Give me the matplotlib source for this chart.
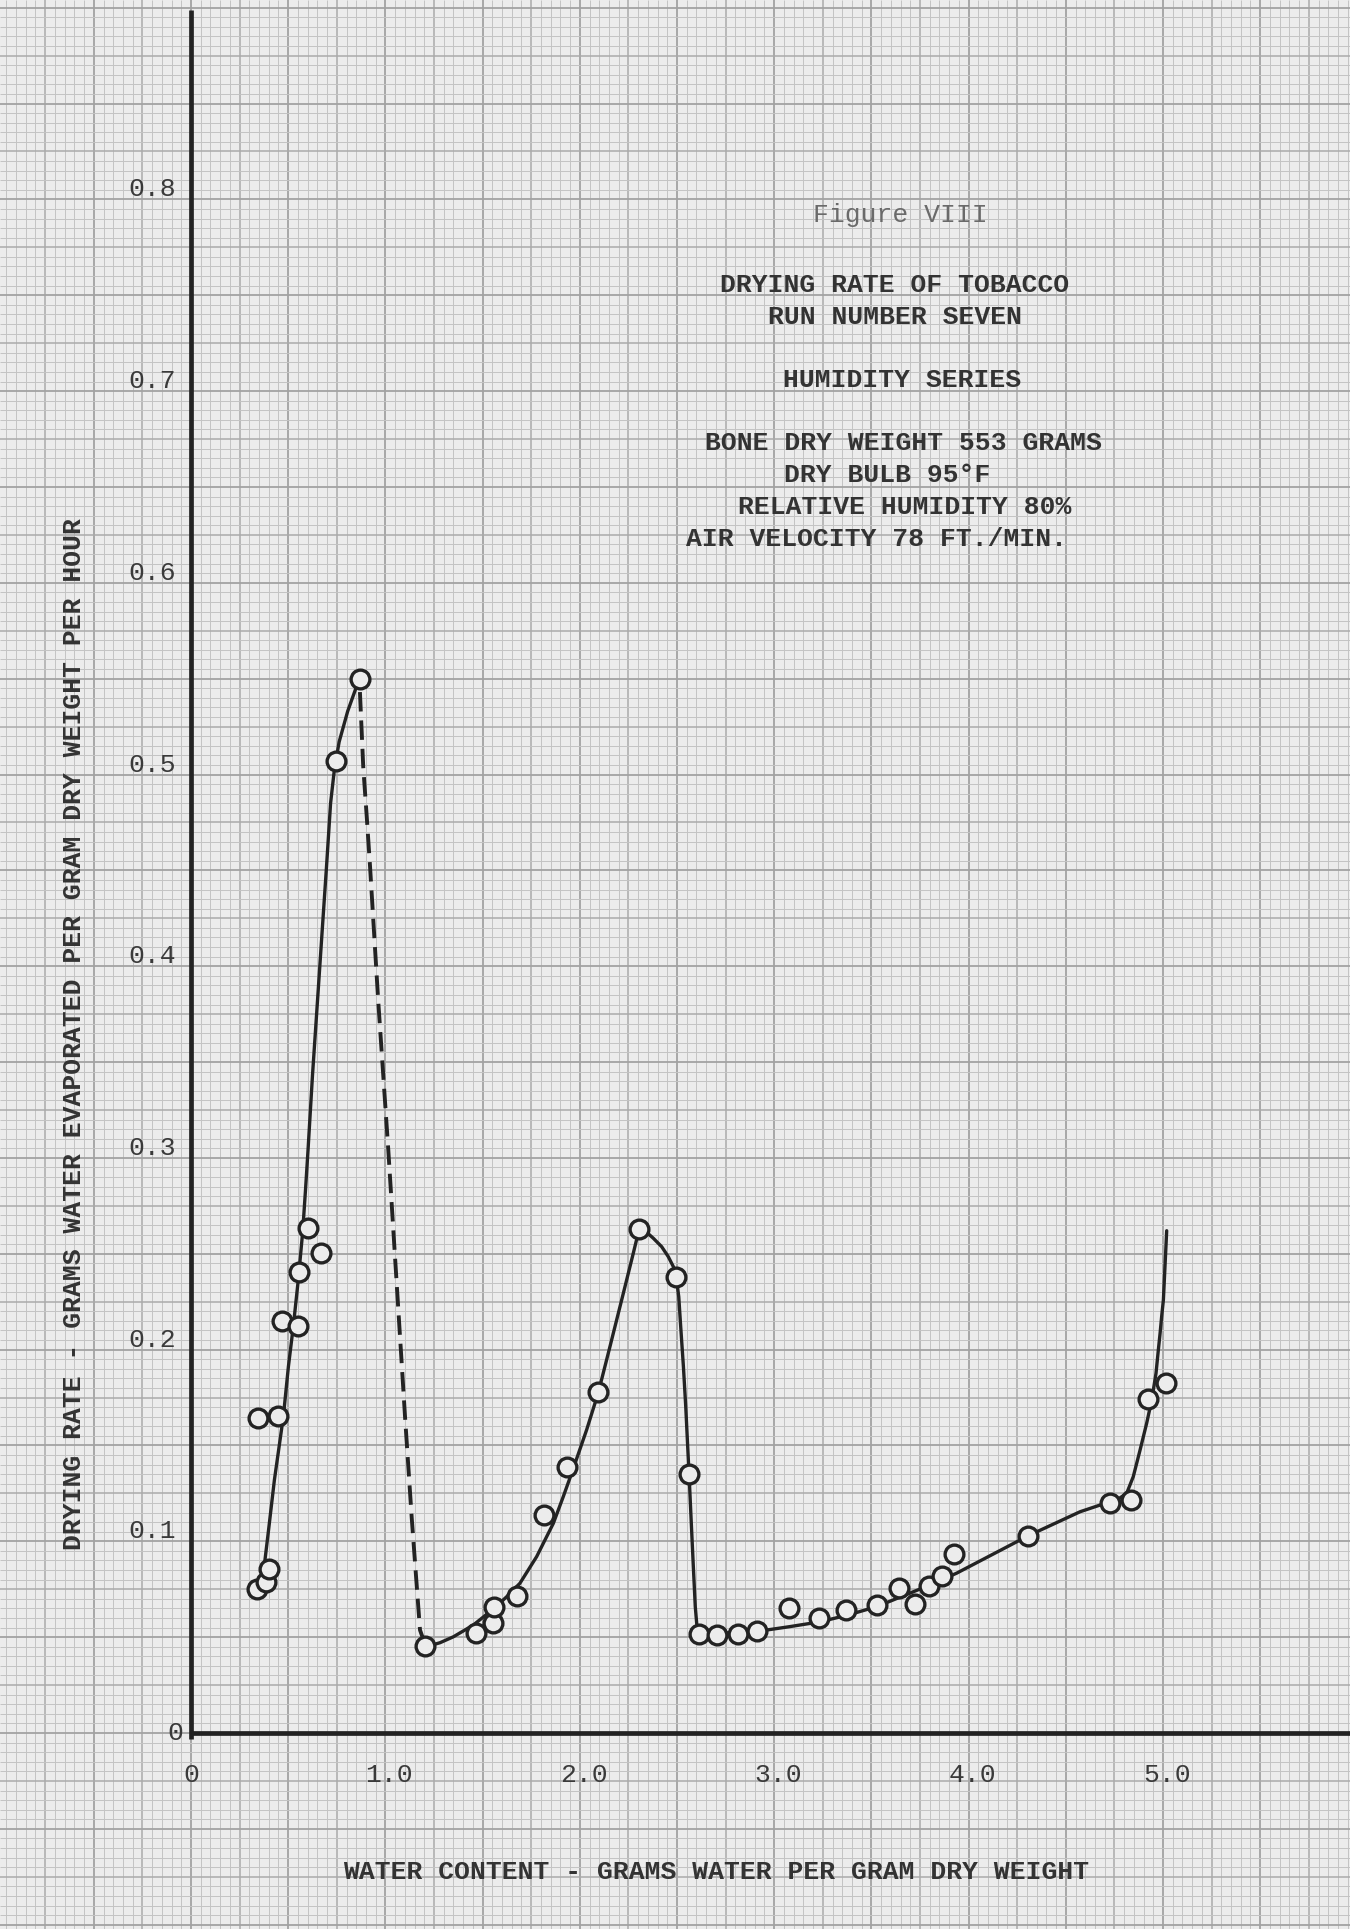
import matplotlib
matplotlib.use("Agg")
import matplotlib.pyplot as plt
import numpy as np

# ---- data ----
# measured points (open circles)
point_x = [0.341, 0.386, 0.401, 0.346, 0.446, 0.470, 0.552, 0.557, 0.604, 0.669, 0.746, 0.869,
           1.205, 1.466, 1.552, 1.559, 1.675, 1.816, 1.933, 2.095, 2.306, 2.493, 2.560,
           2.614, 2.704, 2.815, 2.913, 3.077, 3.232, 3.369, 3.530, 3.644, 3.724, 3.798,
           3.865, 3.925, 4.307, 4.728, 4.834, 4.925, 5.015]
point_y = [0.0750, 0.0786, 0.0854, 0.1645, 0.1654, 0.2149, 0.2125, 0.2403, 0.2636, 0.2502, 0.5072, 0.5498,
           0.0455, 0.0520, 0.0572, 0.0659, 0.0715, 0.1137, 0.1389, 0.1777, 0.2628, 0.2377, 0.1350,
           0.0516, 0.0511, 0.0516, 0.0530, 0.0652, 0.0598, 0.0642, 0.0668, 0.0758, 0.0673, 0.0767,
           0.0821, 0.0934, 0.1029, 0.1198, 0.1218, 0.1742, 0.1824]

# hand drawn curve, first rise
rise_x = [0.370, 0.399, 0.429, 0.475, 0.501, 0.526, 0.550, 0.574, 0.589, 0.602, 0.625,
          0.651, 0.674, 0.697, 0.718, 0.738, 0.762, 0.806, 0.850, 0.869]
rise_y = [0.0814, 0.1059, 0.1320, 0.1650, 0.1911, 0.2119, 0.2346, 0.2608, 0.2833, 0.3041, 0.3432,
          0.3824, 0.4173, 0.4518, 0.4850, 0.5030, 0.5170, 0.5330, 0.5455, 0.5498]

# dashed drop
drop_x = [0.869, 0.886, 0.904, 0.921, 0.963, 1.015, 1.058, 1.101, 1.135, 1.178, 1.205]
drop_y = [0.543, 0.504, 0.478, 0.452, 0.382, 0.304, 0.2346, 0.165, 0.1128, 0.0537, 0.046]

# second branch, flat part and final rise
tail_x = [1.209, 1.281, 1.350, 1.452, 1.559, 1.624, 1.692, 1.778, 1.864, 1.915, 1.958, 2.035,
          2.095, 2.155, 2.224, 2.275, 2.298, 2.306, 2.335, 2.378, 2.421, 2.455, 2.481, 2.498,
          2.509, 2.519, 2.533, 2.545, 2.555, 2.562, 2.572, 2.584, 2.594, 2.605, 2.625,
          2.913, 3.081, 3.236, 3.381, 3.527, 3.801, 3.939, 4.307, 4.573, 4.676, 4.762, 4.813,
          4.847, 4.882, 4.916, 4.942, 4.964, 4.976, 4.985, 4.993, 5.002, 5.019]
tail_y = [0.0450, 0.0471, 0.0502, 0.0563, 0.0650, 0.0711, 0.0781, 0.0920, 0.1094, 0.1233, 0.1355, 0.1581,
          0.1775, 0.2015, 0.2294, 0.2502, 0.2598, 0.2628, 0.2620, 0.2581, 0.2537, 0.2485, 0.2433, 0.2363,
          0.2276, 0.2120, 0.1911, 0.1702, 0.1494, 0.1350, 0.1128, 0.0868, 0.0659, 0.0528, 0.0516,
          0.0530, 0.0555, 0.0580, 0.0616, 0.0659, 0.0772, 0.0834, 0.1029, 0.1154, 0.1189, 0.1215, 0.1250,
          0.1337, 0.1476, 0.1616, 0.1737, 0.1876, 0.1998, 0.2085, 0.2172, 0.2259, 0.2620]

y_ticks = [0.1, 0.2, 0.3, 0.4, 0.5, 0.6, 0.7, 0.8]
y_tick_labels = ["0.1", "0.2", "0.3", "0.4", "0.5", "0.6", "0.7", "0.8"]
x_ticks = [0, 1, 2, 3, 4, 5]
x_tick_labels = ["0", "1.0", "2.0", "3.0", "4.0", "5.0"]

title_lines = [
    "DRYING RATE OF TOBACCO",
    "RUN NUMBER SEVEN",
    "HUMIDITY SERIES",
    "BONE DRY WEIGHT 553 GRAMS",
    "DRY BULB 95°F",
    "RELATIVE HUMIDITY 80%",
    "AIR VELOCITY 78 FT./MIN.",
]

# ---- page geometry (pixels of the scanned sheet) ----
W, H = 1350, 1929
X0_PX, X_SCALE = 191.0, 194.4     # pixel of x=0, pixels per unit
Y0_PX, Y_SCALE = 1733.0, 1917.0   # pixel of y=0, pixels per unit

PAPER = "#ececec"
INK = "#333333"
LINE = "#232323"
FONT = ["Liberation Mono", "DejaVu Sans Mono"]


def px(x, y):
    return x / W, 1 - y / H


fig = plt.figure(figsize=(13.5, 19.29), dpi=100)
fig.patch.set_facecolor(PAPER)
ax = fig.add_axes([0, 0, 1, 1])
ax.set_facecolor(PAPER)
xmin, xmax = -X0_PX / X_SCALE, (W - X0_PX) / X_SCALE
ymin, ymax = -(H - Y0_PX) / Y_SCALE, Y0_PX / Y_SCALE
ax.set_xlim(xmin, xmax)
ax.set_ylim(ymin, ymax)
ax.axis("off")

# graph paper: fine / medium / heavy rulings
gx = np.round(np.arange(-1.0, 6.0001, 0.05), 3)
gy = np.round(np.arange(-0.105, 0.9051, 0.005), 4)
for arr, step, vert in ((gx, 0.05, True), (gy, 0.005, False)):
    k = np.round(arr / step).astype(int)
    for sel, col, lw in (((k % 5) != 0, "#c3c3c3", 0.7),
                         (((k % 5) == 0) & ((k % 10) != 0), "#aaaaaa", 1.1),
                         ((k % 10) == 0, "#a2a2a2", 1.3)):
        if vert:
            ax.vlines(arr[sel], ymin, ymax, colors=col, linewidth=lw, zorder=1)
        else:
            ax.hlines(arr[sel], xmin, xmax, colors=col, linewidth=lw, zorder=1)

# axes lines
ax.plot([0, 0], [-0.003, 0.899], color=LINE, lw=3.4, zorder=3, solid_capstyle="butt")
ax.plot([0, xmax], [0, 0], color=LINE, lw=3.4, zorder=3, solid_capstyle="butt")

# curves
ax.plot(rise_x, rise_y, color=LINE, lw=2.4, zorder=4,
        solid_joinstyle="round", solid_capstyle="round")
ax.plot(tail_x, tail_y, color=LINE, lw=2.4, zorder=4,
        solid_joinstyle="round", solid_capstyle="round")
ax.plot(drop_x, drop_y, color=LINE, lw=2.8, zorder=4, linestyle=(0, (5, 2.3)))

# points
ax.plot(point_x, point_y, "o", ms=13.5, mew=2.4, mec=LINE, mfc=PAPER, zorder=5)

# tick labels
for v, lab in zip(y_ticks, y_tick_labels):
    py = Y0_PX - v * Y_SCALE
    fig.text(*px(176, py - 3), lab, ha="right", va="baseline", fontsize=19,
             family=FONT, color="#3a3a3a")
fig.text(*px(183, Y0_PX + 7), "0", ha="right", va="baseline", fontsize=19,
         family=FONT, color="#3a3a3a")
for v, lab in zip(x_ticks, x_tick_labels):
    pxl = X0_PX + v * X_SCALE + (0 if v == 0 else 4)
    fig.text(*px(pxl, 1782), lab, ha="center", va="baseline", fontsize=19,
             family=FONT, color="#3a3a3a")

# axis titles
fig.text(*px(716, 1872), "WATER CONTENT - GRAMS WATER PER GRAM DRY WEIGHT",
         ha="center", va="center", fontsize=19, family=FONT, color=INK, fontweight="bold")
fig.text(*px(74, 1034), "DRYING RATE - GRAMS WATER EVAPORATED PER GRAM DRY WEIGHT PER HOUR",
         ha="center", va="center", rotation=90, fontsize=19, family=FONT, color=INK,
         fontweight="bold")

# title block
fig.text(*px(900, 215), "Figure VIII", ha="center", va="center", fontsize=19,
         family=FONT, color="#6a6a6a")
title_pos = [(895, 285), (895, 317), (902, 380), (903, 443), (887, 475), (905, 507), (877, 539)]
for (tx, ty), line in zip(title_pos, title_lines):
    fig.text(*px(tx, ty), line, ha="center", va="center", fontsize=19,
             family=FONT, color=INK, fontweight="bold")

fig.savefig("out.png", dpi=100, facecolor=PAPER)
